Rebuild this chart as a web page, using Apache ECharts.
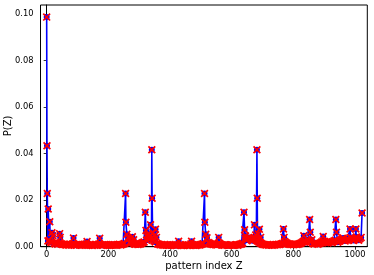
<!DOCTYPE html>
<html>
<head>
<meta charset="utf-8">
<script src="https://cdn.jsdelivr.net/npm/echarts@6/dist/echarts.min.js"></script>
<style>html,body{margin:0;padding:0;background:#fff}#c{width:374px;height:275px}</style>
</head>
<body>
<div id="c"></div>
<script>
// Tick labels
var xTicks = [0, 200, 400, 600, 800, 1000];
var yTicks = [0.00, 0.02, 0.04, 0.06, 0.08, 0.10];

// Background (low-probability) values, one every 4 pattern indices starting at 0
var baseStep = 4;
var baseValues = [
  0.0030,0.0025,0.0028,0.0020,0.0018,0.0024,0.0015,0.0012,0.0016,0.0010,0.0014,0.0020,0.0012,0.0009,0.0011,0.0008,
  0.0007,0.0009,0.0006,0.0010,0.0008,0.0012,0.0007,0.0009,0.0006,0.0008,0.0010,0.0007,0.0006,0.0009,0.0008,0.0006,
  0.0012,0.0008,0.0006,0.0009,0.0007,0.0005,0.0008,0.0006,0.0009,0.0007,0.0010,0.0012,0.0008,0.0006,0.0007,0.0009,
  0.0007,0.0006,0.0008,0.0005,0.0007,0.0009,0.0006,0.0008,0.0007,0.0006,0.0008,0.0010,0.0007,0.0009,0.0011,0.0014,
  0.0026,0.0030,0.0022,0.0018,0.0015,0.0020,0.0016,0.0012,0.0010,0.0013,0.0009,0.0011,0.0012,0.0015,0.0018,0.0020,
  0.0035,0.0028,0.0040,0.0032,0.0045,0.0038,0.0030,0.0025,0.0020,0.0016,0.0012,0.0010,0.0008,0.0009,0.0007,0.0006,
  0.0008,0.0006,0.0007,0.0005,0.0009,0.0006,0.0007,0.0008,0.0006,0.0005,0.0007,0.0012,0.0008,0.0006,0.0007,0.0005,
  0.0006,0.0008,0.0005,0.0007,0.0006,0.0012,0.0008,0.0006,0.0007,0.0005,0.0006,0.0008,0.0007,0.0009,0.0011,0.0013,
  0.0026,0.0030,0.0024,0.0018,0.0015,0.0012,0.0010,0.0009,0.0011,0.0008,0.0007,0.0012,0.0015,0.0010,0.0008,0.0007,
  0.0006,0.0008,0.0007,0.0005,0.0006,0.0008,0.0007,0.0006,0.0005,0.0007,0.0008,0.0006,0.0009,0.0010,0.0012,0.0015,
  0.0030,0.0035,0.0028,0.0033,0.0040,0.0036,0.0030,0.0026,0.0038,0.0032,0.0028,0.0024,0.0020,0.0016,0.0014,0.0011,
  0.0009,0.0008,0.0007,0.0009,0.0006,0.0008,0.0007,0.0006,0.0008,0.0007,0.0009,0.0008,0.0010,0.0009,0.0012,0.0014,
  0.0025,0.0022,0.0018,0.0015,0.0012,0.0010,0.0009,0.0011,0.0008,0.0010,0.0012,0.0009,0.0011,0.0013,0.0015,0.0018,
  0.0022,0.0020,0.0025,0.0018,0.0030,0.0024,0.0020,0.0016,0.0014,0.0012,0.0015,0.0013,0.0011,0.0014,0.0016,0.0020,
  0.0025,0.0022,0.0018,0.0020,0.0016,0.0019,0.0022,0.0018,0.0021,0.0025,0.0028,0.0022,0.0019,0.0023,0.0026,0.0030,
  0.0032,0.0028,0.0025,0.0030,0.0035,0.0028,0.0032,0.0036,0.0030,0.0027,0.0033,0.0038,0.0031,0.0028,0.0034,0.0040
];

// Prominent patterns: index and probability
var peakIndex = [0,1,2,5,10,17,20,42,44,87,131,172,
  256,257,260,264,278,282,
  320,322,326,330,337,341,342,345,350,353,356,
  428,470,
  512,513,516,520,558,
  640,642,645,650,674,678,682,683,686,690,694,
  768,770,834,853,855,860,897,938,940,962,984,986,1003,1005,1023];
var peakProb = [0.0987,0.0434,0.0229,0.0162,0.0107,0.0060,0.0047,0.0056,0.0040,0.0037,0.0022,0.0036,
  0.0229,0.0105,0.0053,0.0038,0.0043,0.0030,
  0.0148,0.0070,0.0050,0.0055,0.0094,0.0417,0.0208,0.0060,0.0048,0.0075,0.0040,
  0.0023,0.0023,
  0.0229,0.0105,0.0053,0.0038,0.0040,
  0.0148,0.0073,0.0046,0.0035,0.0094,0.0050,0.0417,0.0208,0.0055,0.0075,0.0040,
  0.0076,0.0040,0.0047,0.0117,0.0062,0.0030,0.0044,0.0117,0.0062,0.0037,0.0076,0.0040,0.0076,0.0042,0.0145];

var map = {};
baseValues.forEach(function (v, i) { map[i * baseStep] = v; });
peakIndex.forEach(function (z, i) { map[z] = peakProb[i]; });
var data = Object.keys(map).map(Number).sort(function (a, b) { return a - b; })
  .map(function (z) { return [z, map[z]]; });

var chart = echarts.init(document.getElementById('c'), null, {renderer: 'canvas'});
var font = 'DejaVu Sans';
var xMark = 'path://M0,1.5L1.5,0L5,3.5L8.5,0L10,1.5L6.5,5L10,8.5L8.5,10L5,6.5L1.5,10L0,8.5L3.5,5Z';
chart.setOption({
  animation: false,
  grid: {left: 40.5, right: 6.7, top: 5, bottom: 28.3, outerBoundsMode: 'none', containLabel: false,
    show: true, borderColor: '#000', borderWidth: 1, backgroundColor: 'transparent'},
  xAxis: {
    type: 'value', min: -20, max: 1040,
    name: 'pattern index Z', nameLocation: 'middle', nameGap: 14.5, nameMoveOverlap: false,
    nameTextStyle: {fontFamily: font, fontSize: 10, color: '#000'},
    axisLine: {show: true, onZero: false, lineStyle: {color: '#000', width: 1}},
    axisTick: {show: true, length: 3, customValues: xTicks, lineStyle: {color: '#000', width: 0.8}},
    axisLabel: {customValues: xTicks, margin: 4, fontFamily: font, fontSize: 8.3, color: '#000',
      formatter: function (v) { return String(v); }},
    splitLine: {show: false}
  },
  yAxis: {
    type: 'value', min: 0, max: 0.1039,
    name: 'P(Z)', nameLocation: 'middle', nameGap: 27, nameMoveOverlap: false,
    nameTextStyle: {fontFamily: font, fontSize: 10, color: '#000'},
    axisLine: {show: true, lineStyle: {color: '#000', width: 1}},
    axisTick: {show: true, length: 3, customValues: yTicks, lineStyle: {color: '#000', width: 0.8}},
    axisLabel: {customValues: yTicks, margin: 7, fontFamily: font, fontSize: 8.3, color: '#000',
      formatter: function (v) { return v.toFixed(2); }},
    splitLine: {show: false}
  },
  series: [
    {
      type: 'line', data: data, showAllSymbol: true, symbol: 'circle', symbolSize: 6,
      lineStyle: {color: '#0000ff', width: 1.6},
      itemStyle: {color: '#0000ff'},
      z: 2, clip: true
    },
    {
      type: 'scatter', data: data,
      symbol: xMark, symbolSize: 8,
      itemStyle: {color: '#ff0000', borderWidth: 0, opacity: 1},
      z: 5, clip: true
    }
  ]
});
</script>
</body>
</html>
